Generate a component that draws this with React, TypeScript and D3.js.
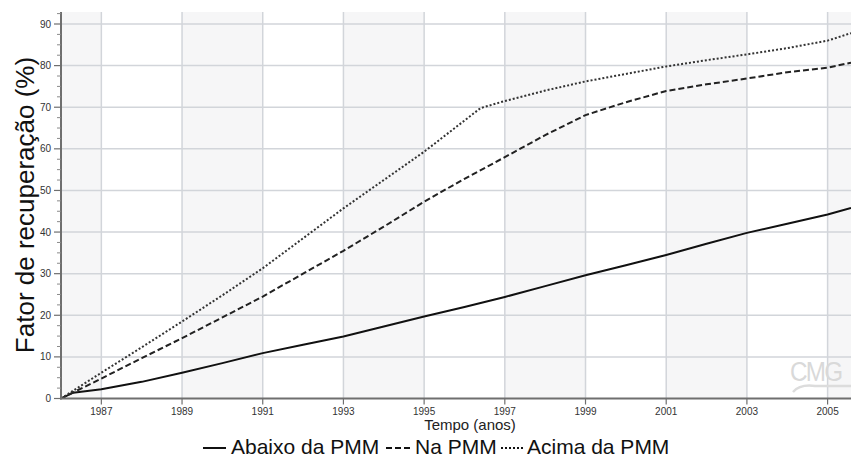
import React from "react";
import * as d3 from "d3";

// Recovery factor (%) over time, three scenarios relative to the PMM
const abaixoYears = [1986, 1986.3, 1987, 1988, 1989, 1990, 1991, 1992, 1993, 1994, 1995, 1996, 1997, 1998, 1999, 2000, 2001, 2002, 2003, 2004, 2005, 2005.58];
const abaixoValues = [0, 1.4, 2.2, 4.0, 6.2, 8.5, 10.9, 12.9, 14.9, 17.3, 19.7, 22.0, 24.4, 27.0, 29.6, 32.0, 34.5, 37.2, 39.8, 42.0, 44.2, 45.8];

const naYears = [1986, 1987, 1988, 1989, 1990, 1991, 1992, 1993, 1994, 1995, 1996, 1997, 1998, 1999, 2000, 2001, 2002, 2003, 2004, 2005, 2005.58];
const naValues = [0, 4.8, 9.7, 14.5, 19.5, 24.5, 30.0, 35.5, 41.3, 47.3, 52.8, 58.0, 63.3, 68.1, 71.2, 73.9, 75.5, 76.9, 78.4, 79.5, 80.7];

const acimaYears = [1986, 1987, 1988, 1989, 1990, 1991, 1992, 1993, 1994, 1995, 1996, 1996.4, 1997, 1998, 1999, 2000, 2001, 2002, 2003, 2004, 2005, 2005.58];
const acimaValues = [0, 6.2, 12.3, 18.5, 24.8, 31.3, 38.5, 45.7, 52.5, 59.3, 66.8, 69.8, 71.5, 74.0, 76.2, 78.0, 79.8, 81.3, 82.7, 84.2, 86.0, 87.8];

const xTickYears = [1987, 1989, 1991, 1993, 1995, 1997, 1999, 2001, 2003, 2005];
const yTickValues = [0, 10, 20, 30, 40, 50, 60, 70, 80, 90];
const legendLabels = ["Abaixo da PMM", "Na PMM", "Acima da PMM"];

const W = 851;
const H = 457;
const left = 61;
const right = 851;
const top = 12;
const bottom = 398.5;

export default function App() {
  const x = d3.scaleLinear().domain([1986, 2005.58]).range([left, right]);
  const y = d3.scaleLinear().domain([0, 90]).range([bottom, 24]);

  const line = d3
    .line<[number, number]>()
    .x((d) => x(d[0]))
    .y((d) => y(d[1]));

  const series = [
    { pts: abaixoYears.map((t, i) => [t, abaixoValues[i]] as [number, number]), dash: "none", color: "#111", width: 2 },
    { pts: naYears.map((t, i) => [t, naValues[i]] as [number, number]), dash: "6,3", color: "#222", width: 2 },
    { pts: acimaYears.map((t, i) => [t, acimaValues[i]] as [number, number]), dash: "2,2", color: "#333", width: 2 },
  ];

  // alternating shaded bands: 1986-87, then every other two-year block
  const bandEdges = [1986, 1987, 1989, 1991, 1993, 1995, 1997, 1999, 2001, 2003, 2005, 2005.58];
  const bands: { x0: number; x1: number; shaded: boolean }[] = [];
  for (let i = 0; i < bandEdges.length - 1; i++) {
    bands.push({ x0: x(bandEdges[i]), x1: x(bandEdges[i + 1]), shaded: i % 2 === 0 });
  }

  const minorY = d3.range(0, 92.6, 2.5).filter((v) => v % 10 !== 0);

  const font = "'Liberation Sans', Arial, sans-serif";

  const legendY = 448;
  const legendItems = [
    { x0: 203, x1: 226, tx: 231, dash: "none", label: legendLabels[0] },
    { x0: 386, x1: 410, tx: 415, dash: "6,3", label: legendLabels[1] },
    { x0: 501, x1: 523, tx: 527, dash: "2,2", label: legendLabels[2] },
  ];

  return (
    <svg
      width={W}
      height={H}
      style={{ position: "absolute", left: 0, top: 0, background: "#fff" }}
      fontFamily={font}
    >
      <defs>
        <clipPath id="plot">
          <rect x={left} y={top} width={right - left} height={bottom - top} />
        </clipPath>
      </defs>
      {bands.map((b, i) => (
        <rect key={i} x={b.x0} y={top} width={b.x1 - b.x0} height={bottom - top} fill={b.shaded ? "#f6f6f7" : "#ffffff"} />
      ))}
      {/* grid */}
      {xTickYears.map((t) => (
        <line key={t} x1={x(t)} x2={x(t)} y1={top} y2={bottom} stroke="#d2d5da" strokeWidth={1.5} />
      ))}
      {yTickValues.filter((v) => v > 0).map((v) => (
        <line key={v} x1={left} x2={right} y1={y(v)} y2={y(v)} stroke="#d2d5da" strokeWidth={1.5} />
      ))}

      {/* watermark */}
      <g>
        <text x={790} y={381} fontSize={27} fill="#d9d9d9" fontFamily={font} letterSpacing={-2} transform="translate(790,381) scale(0.9,1) translate(-790,-381)">
          CMG
        </text>
        <path d="M793,392 Q800,384 815,386 L851,386" fill="none" stroke="#dcdcdc" strokeWidth={2.5} />
      </g>

      {/* series */}
      <g clipPath="url(#plot)">
        {series.map((s, i) => (
          <path
            key={i}
            d={line(s.pts) ?? ""}
            fill="none"
            stroke={s.color}
            strokeWidth={s.width}
            strokeDasharray={s.dash}
            strokeLinejoin="round"
          />
        ))}
      </g>

      {/* axes */}
      <line x1={left} x2={left} y1={top} y2={bottom + 1} stroke="#6f6f6f" strokeWidth={2} />
      <line x1={left - 1} x2={right} y1={bottom} y2={bottom} stroke="#6f6f6f" strokeWidth={2} />
      {yTickValues.map((v) => (
        <g key={v}>
          <line x1={left - 7} x2={left} y1={y(v)} y2={y(v)} stroke="#6f6f6f" strokeWidth={1.2} />
          <text x={left - 10} y={y(v)} dy="0.35em" textAnchor="end" fontSize={10} fill="#333">
            {v}
          </text>
        </g>
      ))}
      {minorY.map((v) => (
        <line key={v} x1={left - 4} x2={left} y1={y(v)} y2={y(v)} stroke="#8a8a8a" strokeWidth={1} />
      ))}
      {xTickYears.map((t) => (
        <g key={t}>
          <line x1={x(t)} x2={x(t)} y1={bottom} y2={bottom + 6} stroke="#6f6f6f" strokeWidth={1.2} />
          <text x={x(t)} y={bottom + 16} textAnchor="middle" fontSize={10} fill="#333">
            {t}
          </text>
        </g>
      ))}

      {/* axis titles */}
      <text x={470} y={430} textAnchor="middle" fontSize={15} fill="#222">
        Tempo (anos)
      </text>
      <text transform="translate(34,205) rotate(-90)" textAnchor="middle" fontSize={26} fill="#111">
        Fator de recuperação (%)
      </text>

      {/* legend */}
      {legendItems.map((it, i) => (
        <g key={i}>
          <line x1={it.x0} x2={it.x1} y1={legendY} y2={legendY} stroke="#111" strokeWidth={2} strokeDasharray={it.dash} />
          <text x={it.tx} y={legendY + 6} fontSize={21} fill="#111">
            {it.label}
          </text>
        </g>
      ))}
    </svg>
  );
}
